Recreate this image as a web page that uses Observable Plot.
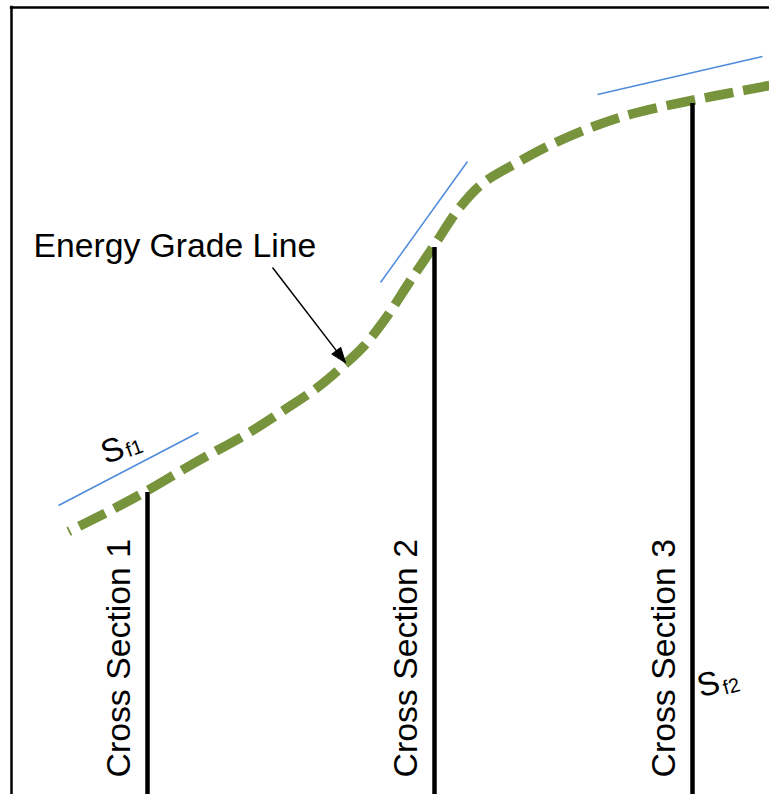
<!DOCTYPE html>
<html>
<head>
<meta charset="utf-8">
<script src="https://cdn.jsdelivr.net/npm/d3@7"></script>
<script src="https://cdn.jsdelivr.net/npm/@observablehq/plot@0.6"></script>
<style>
  body { margin: 0; background: #fff; }
  svg { display: block; }
</style>
</head>
<body>
<div id="chart"></div>
<script>
// Energy grade line: station (horizontal) and elevation (vertical), diagram units
const stations = [68, 110, 147, 193, 247, 283, 317, 343, 363, 385, 410, 433, 460, 482, 517, 553, 593, 633, 691, 727, 769];
const egl      = [263, 284, 304, 331, 361, 384, 407, 429, 448, 476, 514, 548, 588, 611, 632, 651, 668, 681, 694, 701, 709];

// Cross sections
const xsNames   = ["Cross Section 1", "Cross Section 2", "Cross Section 3"];
const xsStation = [147, 434, 692];
const xsTop     = [302, 547, 691];

// Friction-slope tangent lines
const tanX1 = [58, 380, 597];
const tanY1 = [289, 512, 700];
const tanX2 = [198, 467, 762];
const tanY2 = [362, 633, 738];

// Friction slope labels (S with subscript)
const sfMain = ["S", "S"];
const sfSub  = ["f1", "f2"];
const sfX    = [112, 708];
const sfY    = [344, 110];
const subX   = [134, 731];
const subY   = [346, 108];
const sfRot  = [-20, -15];

// Annotation
const labelText = ["Energy Grade Line"];
const arrowFrom = [272, 527];
const arrowTo   = [345, 432];

// arrow head geometry derived from the arrow data
const ax = arrowTo[0] - arrowFrom[0], ay = arrowTo[1] - arrowFrom[1];
const alen = Math.hypot(ax, ay);
const ux = ax / alen, uy = ay / alen, nx = -uy, ny = ux;
const headL = 15, headW = 5.5;
const baseC = [arrowTo[0] - headL * ux, arrowTo[1] - headL * uy];
const head = [
  [arrowTo[0], arrowTo[1]],
  [baseC[0] + headW * nx, baseC[1] + headW * ny],
  [baseC[0] - headW * nx, baseC[1] - headW * ny]
];

const chart = Plot.plot({
  width: 769,
  height: 794,
  margin: 0,
  x: {domain: [0, 769], axis: null},
  y: {domain: [0, 794], axis: null},
  style: {fontFamily: "'Liberation Sans', Arial, sans-serif", background: "white", overflow: "visible"},
  marks: [
    // frame (top and left border)
    Plot.ruleX([11], {x: d => d, y1: -10, y2: 788.2, stroke: "black", strokeWidth: 2.5}),
    Plot.ruleY([787], {y: d => d, x1: 9.8, x2: 780, stroke: "black", strokeWidth: 2.5}),
    // energy grade line
    Plot.line(stations, {
      x: d => d, y: (d, i) => egl[i], curve: "catmull-rom",
      stroke: "#77933C", strokeWidth: 9.5, strokeDasharray: "29,10", strokeDashoffset: 27, strokeLinecap: "butt"
    }),
    // tangent lines
    Plot.link(tanX1, {
      x1: d => d, y1: (d, i) => tanY1[i], x2: (d, i) => tanX2[i], y2: (d, i) => tanY2[i],
      stroke: "#4F8BDB", strokeWidth: 1.5
    }),
    // cross section lines
    Plot.ruleX(xsStation, {x: d => d, y1: 0, y2: (d, i) => xsTop[i], stroke: "black", strokeWidth: 4.5}),
    // cross section labels
    Plot.text(xsNames, {
      x: (d, i) => xsStation[i], y: 17, dx: -28, text: d => d, rotate: -90,
      textAnchor: "start", fontSize: 33.8, fill: "black"
    }),
    // energy grade line label
    Plot.text(labelText, {x: 33, y: 548, text: d => d, textAnchor: "start", fontSize: 33.7, fill: "black"}),
    // arrow
    Plot.link([0], {x1: arrowFrom[0], y1: arrowFrom[1], x2: baseC[0], y2: baseC[1], stroke: "black", strokeWidth: 1.5}),
    Plot.line(head, {x: d => d[0], y: d => d[1], curve: "linear-closed", fill: "black", stroke: "black", strokeWidth: 1}),
    // S_f labels
    Plot.text(sfMain, {x: (d, i) => sfX[i], y: (d, i) => sfY[i], text: d => d, rotate: (d, i) => sfRot[i], fontSize: 33, fill: "black"}),
    Plot.text(sfSub, {x: (d, i) => subX[i], y: (d, i) => subY[i], text: d => d, rotate: (d, i) => sfRot[i], fontSize: 20, fill: "black"})
  ]
});
document.getElementById("chart").appendChild(chart);
</script>
</body>
</html>
